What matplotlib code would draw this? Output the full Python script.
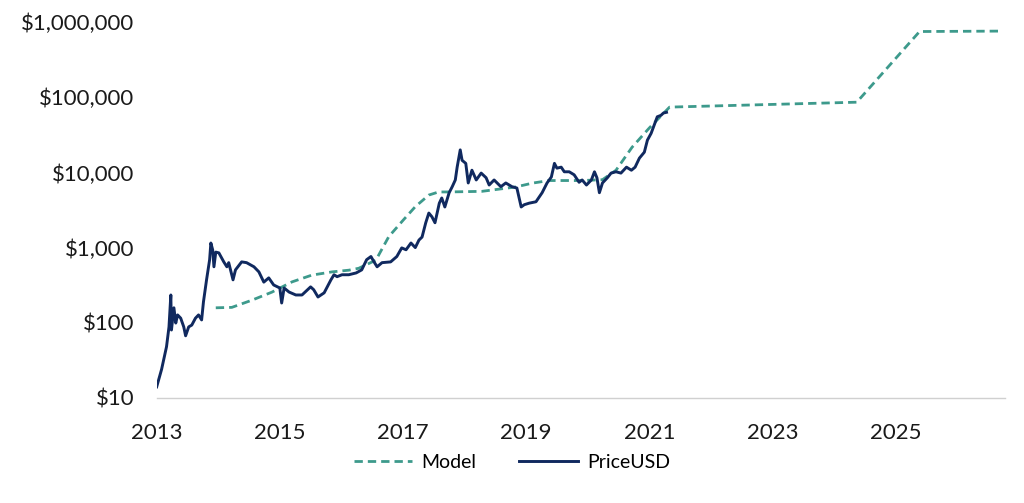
import numpy as np
import matplotlib.pyplot as plt
from matplotlib.ticker import FixedLocator, FuncFormatter

# colours
model_teal = '#3d9a8c'
price_navy = '#10295f'

# PriceUSD (decimal year, USD)
price_year = [2013.00, 2013.08, 2013.16, 2013.20, 2013.23, 2013.24, 2013.28, 2013.31, 2013.34,
              2013.39, 2013.44, 2013.47, 2013.52, 2013.57, 2013.63, 2013.68, 2013.73, 2013.76,
              2013.81, 2013.86, 2013.88, 2013.91, 2013.93, 2013.96, 2014.01, 2014.09, 2014.14,
              2014.17, 2014.24, 2014.28, 2014.38, 2014.46, 2014.58, 2014.66, 2014.74, 2014.82,
              2014.90, 2015.00, 2015.03, 2015.07, 2015.15, 2015.26, 2015.36, 2015.50, 2015.55,
              2015.62, 2015.72, 2015.83, 2015.88, 2015.93, 2016.01, 2016.12, 2016.24, 2016.33,
              2016.41, 2016.48, 2016.53, 2016.58, 2016.66, 2016.80, 2016.90, 2016.98, 2017.05,
              2017.13, 2017.20, 2017.26, 2017.31, 2017.37, 2017.42, 2017.47, 2017.52, 2017.59,
              2017.63, 2017.68, 2017.75, 2017.80, 2017.85, 2017.88, 2017.93, 2017.96, 2018.02,
              2018.06, 2018.12, 2018.19, 2018.27, 2018.35, 2018.40, 2018.48, 2018.53, 2018.59,
              2018.67, 2018.77, 2018.85, 2018.92, 2018.97, 2019.05, 2019.16, 2019.26, 2019.34,
              2019.41, 2019.46, 2019.50, 2019.57, 2019.62, 2019.70, 2019.78, 2019.86, 2019.91,
              2019.98, 2020.06, 2020.11, 2020.15, 2020.19, 2020.24, 2020.32, 2020.38, 2020.46,
              2020.54, 2020.63, 2020.71, 2020.77, 2020.84, 2020.92, 2020.97, 2021.03, 2021.08,
              2021.13, 2021.19, 2021.23, 2021.28]
price_usd = [14, 24, 48, 88, 234, 80, 158, 99, 127,
             115, 88, 67, 88, 93, 115, 127, 109, 190,
             372, 690, 1150, 930, 555, 870, 850, 645, 555,
             630, 372, 505, 645, 630, 555, 475, 347, 395,
             318, 290, 183, 290, 256, 234, 234, 300, 275,
             220, 250, 372, 435, 410, 435, 435, 460, 505,
             690, 760, 645, 555, 630, 645, 760, 990, 935,
             1150, 1000, 1260, 1380, 2140, 2880, 2570, 2140, 3890,
             4570, 3470, 5370, 6460, 7940, 11750, 19950, 14500, 13200,
             7240, 10700, 7940, 9800, 8500, 6800, 7940, 7240, 6460,
             7240, 6460, 6200, 3470, 3720, 3900, 4070, 5370, 7240,
             8700, 13200, 11400, 11750, 10200, 10200, 9300, 7400, 7940,
             6800, 7940, 10200, 8500, 5370, 7240, 8500, 9800, 10200,
             9800, 11750, 10700, 11750, 15500, 18600, 26900, 33100, 42700,
             55000, 57500, 61700, 63100]

# Model (decimal year, USD)
model_year = [2013.96, 2014.22, 2014.55, 2014.87, 2015.20, 2015.52, 2015.85, 2016.12, 2016.28,
              2016.56, 2016.77, 2017.00, 2017.20, 2017.42, 2017.58, 2017.75, 2018.28, 2018.83,
              2019.10, 2019.37, 2019.90, 2020.24, 2020.46, 2020.72, 2021.00, 2021.33, 2024.37,
              2025.39, 2026.74]
model_usd = [158, 160, 200, 255, 350, 430, 475, 500, 530,
             680, 1400, 2300, 3500, 5000, 5500, 5500, 5600, 6400,
             7200, 7800, 7800, 8000, 10700, 21600, 39000, 74000, 86000,
             750000, 760000]

y_ticks = [10, 100, 1000, 10000, 100000, 1000000]
x_ticks = [2013, 2015, 2017, 2019, 2021, 2023, 2025]

plt.rcParams['font.family'] = ['Lato', 'DejaVu Sans']

fig = plt.figure(figsize=(10.24, 5.03), dpi=100)
ax = fig.add_axes([0.153, 0.209, 0.828, 0.747])

ax.plot(model_year, model_usd, color=model_teal, linewidth=2.0, linestyle=(0, (3, 1.8)),
        label='Model')
ax.plot(price_year, price_usd, color=price_navy, linewidth=2.1, label='PriceUSD')

ax.set_yscale('log')
ax.set_ylim(10, 1000000)
ax.set_xlim(2013, 2026.77)
ax.yaxis.set_major_locator(FixedLocator(y_ticks))
ax.yaxis.set_minor_locator(FixedLocator([]))
ax.yaxis.set_major_formatter(FuncFormatter(lambda v, p: '${:,.0f}'.format(v)))
ax.xaxis.set_major_locator(FixedLocator(x_ticks))
ax.xaxis.set_major_formatter(FuncFormatter(lambda v, p: '{:d}'.format(int(round(v)))))

for s in ['top', 'right', 'left']:
    ax.spines[s].set_visible(False)
ax.spines['bottom'].set_color('#d0d0d0')
ax.spines['bottom'].set_linewidth(1.0)
ax.tick_params(axis='both', length=0, labelsize=16, colors='#1a1a1a')
ax.tick_params(axis='x', pad=18)
ax.tick_params(axis='y', pad=16)

fig.legend(loc='center', bbox_to_anchor=(0.5, 0.08), ncol=2, frameon=False, fontsize=14,
           handlelength=3.0, columnspacing=2.2, handletextpad=0.5)

fig.savefig('out.png', dpi=100, facecolor='white')
